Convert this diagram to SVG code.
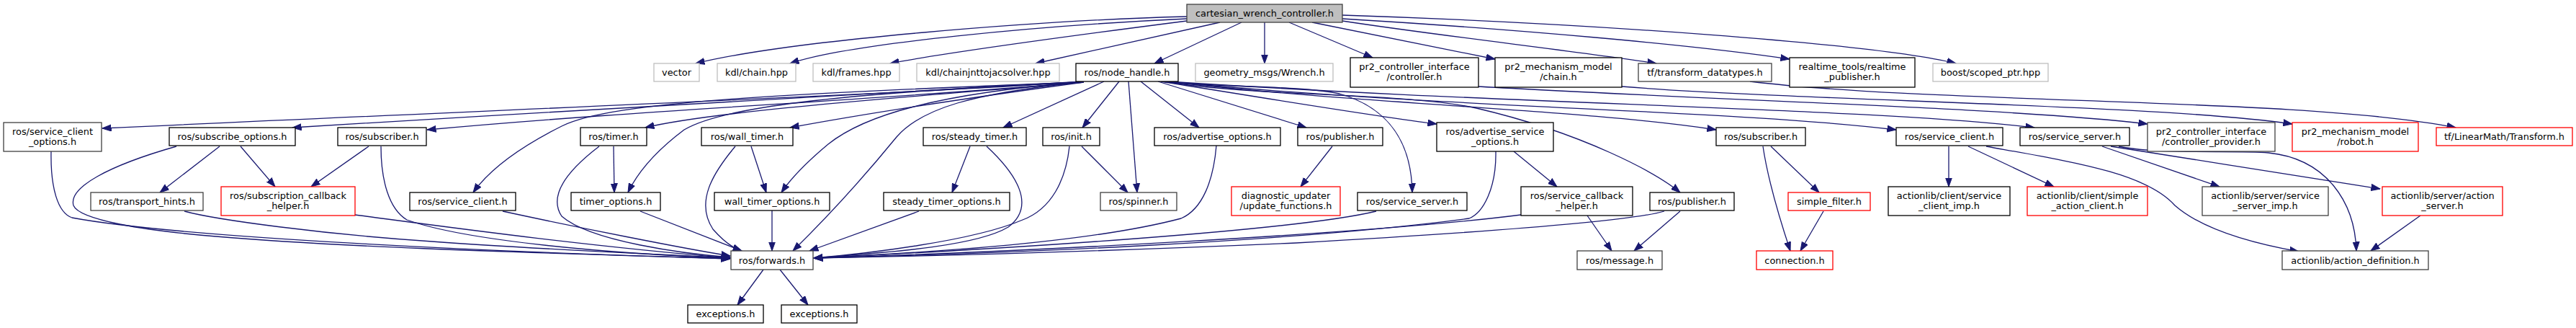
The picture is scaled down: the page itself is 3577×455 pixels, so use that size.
<svg xmlns="http://www.w3.org/2000/svg" width="3577" height="455" viewBox="0 0 3577 455">
<style>
rect{fill:#fff;stroke-width:1.3}
.k{stroke:#000}
.d{stroke:#404040}
.g{stroke:#bfbfbf}
.r{stroke:#ff0000}
.root{fill:#bfbfbf;stroke:#404040}
text{font-family:"DejaVu Sans","Liberation Sans",sans-serif;font-size:12.9px;fill:#000;text-anchor:middle}
#edges path{fill:none;stroke:#191970;stroke-width:1.3;marker-end:url(#ah)}
</style>
<defs>
<marker id="ah" markerUnits="userSpaceOnUse" markerWidth="13" markerHeight="10" viewBox="0 0 13 10" refX="12.5" refY="5" orient="auto">
<path d="M0,0.5 L12.5,5 L0,9.5 z" fill="#191970" stroke="#191970" stroke-width="1"/>
</marker>
</defs>
<rect x="0" y="0" width="3577" height="455" fill="#fff" stroke="none"/>
<g id="edges">
<path d="M1648,23 C1450,28 1100,55 966,88"/>
<path d="M1648,26 C1450,35 1180,60 1097,88"/>
<path d="M1648,29 C1500,48 1320,72 1236,88"/>
<path d="M1694,31 L1438,88"/>
<path d="M1724,31 L1603,88"/>
<path d="M1756,31 L1756,88"/>
<path d="M1790,31 L1906,80"/>
<path d="M1822,31 L2076,82"/>
<path d="M1864,29 C2000,50 2200,72 2300,88"/>
<path d="M1864,26 C2100,40 2350,62 2485,82"/>
<path d="M1864,21 C2200,32 2600,60 2716,88"/>
<path d="M1505,113 C1300,128 800,148 142,178"/>
<path d="M1505,113 C1250,130 800,152 406,177"/>
<path d="M1505,114 C1200,140 900,152 593,180"/>
<path d="M1505,114 C1300,132 1000,152 896,177"/>
<path d="M1505,114 C1350,135 1200,158 1097,177"/>
<path d="M1533,113 L1393,177"/>
<path d="M1554,113 L1503,177"/>
<path d="M1567,113 L1579,267"/>
<path d="M1584,113 L1665,177"/>
<path d="M1608,113 L1814,177"/>
<path d="M1612,113 C1750,135 1900,160 1995,172"/>
<path d="M1500,114 C1150,130 1000,150 950,180 C910,210 885,240 872,267"/>
<path d="M1500,114 C1300,130 1200,160 1150,200 C1120,225 1100,245 1085,267"/>
<path d="M1500,114 C1350,130 1280,150 1245,190 C1200,245 1150,300 1101,348"/>
<path d="M1500,114 C1100,130 850,140 780,175 C720,205 680,235 657,267"/>
<path d="M1615,113 C1700,122 1800,118 1860,130 C1930,150 1960,200 1961,267"/>
<path d="M1615,113 C1750,135 1950,128 2050,150 C2200,185 2300,240 2333,267"/>
<path d="M1618,113 C1900,145 2200,152 2383,180"/>
<path d="M1620,113 C2000,150 2400,152 2633,180"/>
<path d="M1622,113 C2100,145 2600,150 2825,177"/>
<path d="M2053,120 C2400,140 2800,150 2982,172"/>
<path d="M2252,120 C2500,140 3000,145 3183,172"/>
<path d="M2430,113 C2700,145 3200,135 3410,177"/>
<path d="M305,203 L222,267"/>
<path d="M334,203 L382,259"/>
<path d="M512,203 L432,259"/>
<path d="M852,203 L853,267"/>
<path d="M1043,203 L1064,267"/>
<path d="M1347,203 L1322,267"/>
<path d="M1502,203 L1566,267"/>
<path d="M1850,203 L1806,259"/>
<path d="M2102,210 L2162,259"/>
<path d="M2204,299 L2238,348"/>
<path d="M2333,293 L2269,348"/>
<path d="M2459,203 L2526,267"/>
<path d="M2448,203 C2455,250 2470,300 2486,348"/>
<path d="M2532,293 L2500,348"/>
<path d="M2706,203 L2706,259"/>
<path d="M2733,203 L2852,259"/>
<path d="M2758,203 C2880,225 2980,240 3020,285 C3060,320 3130,338 3192,349"/>
<path d="M2919,203 L3082,259"/>
<path d="M2931,203 C3050,222 3200,245 3305,262"/>
<path d="M2942,203 C3000,215 3100,208 3150,212 C3230,220 3270,280 3272,348"/>
<path d="M3361,299 L3292,348"/>
<path d="M1060,374 L1024,423"/>
<path d="M1083,374 L1122,423"/>
<path d="M71,210 C70,260 80,295 100,302 C250,330 700,350 1014,359"/>
<path d="M245,203 C150,230 95,260 102,285 C110,305 200,320 300,328 C500,345 800,352 1014,359"/>
<path d="M256,293 C300,305 450,325 600,335 C750,346 900,352 1014,358"/>
<path d="M493,298 C600,312 800,340 1014,358"/>
<path d="M529,203 C529,250 540,290 565,305 C650,335 850,352 1014,358"/>
<path d="M698,293 C800,315 950,345 1014,355"/>
<path d="M832,203 C790,235 760,270 780,300 C820,335 950,352 1014,357"/>
<path d="M889,293 L1030,348"/>
<path d="M1021,203 C990,240 965,280 990,318 C1005,335 1020,345 1030,348"/>
<path d="M1072,292 L1072,348"/>
<path d="M1276,293 L1124,348"/>
<path d="M1370,203 C1410,240 1440,285 1400,315 C1350,345 1200,352 1130,358"/>
<path d="M1485,203 C1480,250 1460,290 1420,305 C1350,335 1200,352 1130,358"/>
<path d="M1689,202 C1685,250 1670,290 1640,303 C1500,340 1250,352 1130,358"/>
<path d="M1911,293 C1800,320 1400,345 1130,358"/>
<path d="M2077,210 C2078,260 2060,295 2040,303 C1800,335 1400,352 1130,358"/>
<path d="M2112,298 C1900,325 1400,350 1130,358"/>
<path d="M2311,293 C2270,305 2100,320 1800,337 C1500,350 1250,356 1130,358"/>
</g>
<g id="n0"><rect class="root" x="1648" y="6" width="216" height="25"/><text x="1756" y="23">cartesian_wrench_controller.h</text></g>
<g id="n1"><rect class="g" x="908" y="88" width="63" height="25"/><text x="939.5" y="105">vector</text></g>
<g id="n2"><rect class="g" x="996" y="88" width="109" height="25"/><text x="1050.5" y="105">kdl/chain.hpp</text></g>
<g id="n3"><rect class="g" x="1129" y="88" width="120" height="25"/><text x="1189" y="105">kdl/frames.hpp</text></g>
<g id="n4"><rect class="g" x="1273" y="88" width="198" height="25"/><text x="1372" y="105">kdl/chainjnttojacsolver.hpp</text></g>
<g id="n5"><rect class="k" x="1494" y="88" width="142" height="25"/><text x="1565" y="105">ros/node_handle.h</text></g>
<g id="n6"><rect class="g" x="1660" y="88" width="191" height="25"/><text x="1755.5" y="105">geometry_msgs/Wrench.h</text></g>
<g id="n7"><rect class="k" x="1875" y="80" width="178" height="41"/><text x="1964" y="97">pr2_controller_interface</text><text x="1964" y="111">/controller.h</text></g>
<g id="n8"><rect class="k" x="2076" y="80" width="176" height="41"/><text x="2164" y="97">pr2_mechanism_model</text><text x="2164" y="111">/chain.h</text></g>
<g id="n9"><rect class="d" x="2275" y="88" width="185" height="25"/><text x="2367.5" y="105">tf/transform_datatypes.h</text></g>
<g id="n10"><rect class="k" x="2485" y="80" width="174" height="41"/><text x="2572" y="97">realtime_tools/realtime</text><text x="2572" y="111">_publisher.h</text></g>
<g id="n11"><rect class="g" x="2684" y="88" width="160" height="25"/><text x="2764" y="105">boost/scoped_ptr.hpp</text></g>
<g id="n12"><rect class="d" x="5" y="170" width="136" height="40"/><text x="73" y="186.5">ros/service_client</text><text x="73" y="201">_options.h</text></g>
<g id="n13"><rect class="k" x="235" y="177" width="175" height="25"/><text x="322.5" y="194">ros/subscribe_options.h</text></g>
<g id="n14"><rect class="k" x="469" y="177" width="123" height="25"/><text x="530.5" y="194">ros/subscriber.h</text></g>
<g id="n15"><rect class="k" x="806" y="177" width="92" height="25"/><text x="852" y="194">ros/timer.h</text></g>
<g id="n16"><rect class="k" x="974" y="177" width="127" height="25"/><text x="1037.5" y="194">ros/wall_timer.h</text></g>
<g id="n17"><rect class="k" x="1282" y="177" width="143" height="25"/><text x="1353.5" y="194">ros/steady_timer.h</text></g>
<g id="n18"><rect class="k" x="1448" y="177" width="79" height="25"/><text x="1487.5" y="194">ros/init.h</text></g>
<g id="n19"><rect class="k" x="1603" y="177" width="175" height="25"/><text x="1690.5" y="194">ros/advertise_options.h</text></g>
<g id="n20"><rect class="k" x="1802" y="177" width="118" height="25"/><text x="1861" y="194">ros/publisher.h</text></g>
<g id="n21"><rect class="k" x="1995" y="170" width="162" height="40"/><text x="2076" y="186.5">ros/advertise_service</text><text x="2076" y="201">_options.h</text></g>
<g id="n22"><rect class="k" x="2383" y="177" width="124" height="25"/><text x="2445" y="194">ros/subscriber.h</text></g>
<g id="n23"><rect class="k" x="2633" y="177" width="148" height="25"/><text x="2707" y="194">ros/service_client.h</text></g>
<g id="n24"><rect class="k" x="2805" y="177" width="152" height="25"/><text x="2881" y="194">ros/service_server.h</text></g>
<g id="n25"><rect class="d" x="2982" y="170" width="177" height="40"/><text x="3070.5" y="186.5">pr2_controller_interface</text><text x="3070.5" y="201">/controller_provider.h</text></g>
<g id="n26"><rect class="r" x="3183" y="170" width="175" height="40"/><text x="3270.5" y="186.5">pr2_mechanism_model</text><text x="3270.5" y="201">/robot.h</text></g>
<g id="n27"><rect class="r" x="3383" y="177" width="189" height="25"/><text x="3477.5" y="194">tf/LinearMath/Transform.h</text></g>
<g id="n28"><rect class="d" x="126" y="267" width="156" height="25"/><text x="204" y="284">ros/transport_hints.h</text></g>
<g id="n29"><rect class="r" x="307" y="259" width="186" height="40"/><text x="400" y="275.5">ros/subscription_callback</text><text x="400" y="290">_helper.h</text></g>
<g id="n30"><rect class="k" x="569" y="267" width="147" height="25"/><text x="642.5" y="284">ros/service_client.h</text></g>
<g id="n31"><rect class="k" x="793" y="267" width="124" height="25"/><text x="855" y="284">timer_options.h</text></g>
<g id="n32"><rect class="k" x="992" y="267" width="160" height="25"/><text x="1072" y="284">wall_timer_options.h</text></g>
<g id="n33"><rect class="k" x="1227" y="267" width="175" height="25"/><text x="1314.5" y="284">steady_timer_options.h</text></g>
<g id="n34"><rect class="d" x="1528" y="267" width="106" height="25"/><text x="1581" y="284">ros/spinner.h</text></g>
<g id="n35"><rect class="r" x="1710" y="259" width="151" height="40"/><text x="1785.5" y="275.5">diagnostic_updater</text><text x="1785.5" y="290">/update_functions.h</text></g>
<g id="n36"><rect class="k" x="1885" y="267" width="152" height="25"/><text x="1961" y="284">ros/service_server.h</text></g>
<g id="n37"><rect class="k" x="2112" y="259" width="155" height="40"/><text x="2189.5" y="275.5">ros/service_callback</text><text x="2189.5" y="290">_helper.h</text></g>
<g id="n38"><rect class="k" x="2291" y="267" width="117" height="25"/><text x="2349.5" y="284">ros/publisher.h</text></g>
<g id="n39"><rect class="r" x="2483" y="267" width="114" height="25"/><text x="2540" y="284">simple_filter.h</text></g>
<g id="n40"><rect class="k" x="2622" y="259" width="169" height="40"/><text x="2706.5" y="275.5">actionlib/client/service</text><text x="2706.5" y="290">_client_imp.h</text></g>
<g id="n41"><rect class="r" x="2815" y="259" width="167" height="40"/><text x="2898.5" y="275.5">actionlib/client/simple</text><text x="2898.5" y="290">_action_client.h</text></g>
<g id="n42"><rect class="d" x="3058" y="259" width="175" height="40"/><text x="3145.5" y="275.5">actionlib/server/service</text><text x="3145.5" y="290">_server_imp.h</text></g>
<g id="n43"><rect class="r" x="3308" y="259" width="167" height="40"/><text x="3391.5" y="275.5">actionlib/server/action</text><text x="3391.5" y="290">_server.h</text></g>
<g id="n44"><rect class="d" x="1015" y="348" width="114" height="26"/><text x="1072" y="365.5">ros/forwards.h</text></g>
<g id="n45"><rect class="d" x="2190" y="348" width="118" height="26"/><text x="2249" y="365.5">ros/message.h</text></g>
<g id="n46"><rect class="r" x="2439" y="348" width="106" height="26"/><text x="2492" y="365.5">connection.h</text></g>
<g id="n47"><rect class="d" x="3169" y="348" width="203" height="26"/><text x="3270.5" y="365.5">actionlib/action_definition.h</text></g>
<g id="n48"><rect class="k" x="955" y="423" width="105" height="25"/><text x="1007.5" y="440">exceptions.h</text></g>
<g id="n49"><rect class="k" x="1085" y="423" width="105" height="25"/><text x="1137.5" y="440">exceptions.h</text></g>
</svg>
